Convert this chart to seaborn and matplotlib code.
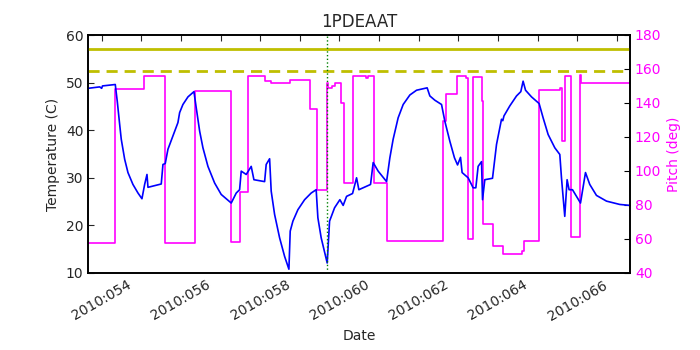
import matplotlib
matplotlib.use("Agg")
import matplotlib.pyplot as plt
import seaborn as sns
import pandas as pd
from matplotlib.ticker import FixedLocator, FuncFormatter

# ---- data (day of year 2010) ----
temp_day = [53.66, 53.95, 54.00, 54.02, 54.343, 54.393, 54.454, 54.494, 54.580, 54.663,
            54.789, 54.916, 55.016, 55.084, 55.143, 55.168, 55.503, 55.546, 55.604, 55.672,
            55.798, 55.924, 55.967, 56.050, 56.177, 56.328, 56.386, 56.472, 56.555, 56.681,
            56.850, 57.016, 57.269, 57.395, 57.480, 57.521, 57.647, 57.773, 57.841, 58.111,
            58.151, 58.237, 58.277, 58.363, 58.489, 58.615, 58.724, 58.757, 58.825, 58.951,
            59.120, 59.286, 59.412, 59.455, 59.538, 59.690, 59.750, 59.876, 60.010, 60.093,
            60.179, 60.330, 60.431, 60.489, 60.784, 60.850, 60.976, 61.188, 61.271, 61.354,
            61.480, 61.607, 61.776, 61.945, 62.212, 62.280, 62.406, 62.575, 62.658, 62.784,
            62.901, 62.979, 63.054, 63.094, 63.246, 63.372, 63.440, 63.498, 63.584, 63.609,
            63.667, 63.861, 63.962, 64.088, 64.12, 64.15, 64.297, 64.467, 64.575, 64.633,
            64.694, 64.845, 65.037, 65.138, 65.264, 65.433, 65.559, 65.601, 65.684, 65.743,
            65.793, 65.879, 66.081, 66.207, 66.315, 66.484, 66.737, 67.073, 67.33]
temp_c = [48.8, 49.1, 48.8, 49.3, 49.6, 46.1, 41.2, 38.1, 33.9, 31.1,
          28.6, 26.8, 25.6, 28.6, 30.7, 28.0, 28.7, 32.8, 33.0, 36.0,
          38.8, 41.6, 43.7, 45.4, 47.0, 48.1, 44.7, 39.8, 36.3, 32.4,
          28.9, 26.5, 24.7, 26.8, 27.5, 31.4, 30.7, 32.4, 29.6, 29.2,
          32.8, 34.0, 27.2, 22.3, 17.4, 13.5, 10.8, 18.8, 20.9, 23.3,
          25.4, 26.8, 27.5, 21.6, 17.4, 12.1, 20.9, 23.7, 25.4, 24.2,
          26.1, 26.7, 30.0, 27.5, 28.6, 33.2, 31.4, 29.2, 34.2, 38.1,
          42.6, 45.4, 47.4, 48.4, 48.9, 47.2, 46.3, 45.4, 41.9, 37.7,
          34.2, 32.7, 34.3, 31.1, 30.0, 27.9, 27.9, 32.4, 33.4, 25.4,
          29.6, 29.9, 37.0, 42.3, 42.0, 43.0, 45.1, 47.2, 48.1, 50.3,
          48.4, 47.0, 45.6, 42.6, 39.1, 36.3, 34.9, 30.0, 21.9, 29.6,
          27.5, 27.5, 24.7, 31.1, 28.6, 26.3, 25.1, 24.4, 24.2]

pitch_day = [53.66, 54.343, 55.067, 55.604, 56.345, 57.253, 57.496, 57.690, 58.111,
             58.262, 58.741, 59.246, 59.438, 59.69, 59.71, 59.80, 59.884, 60.035, 60.111,
             60.330, 60.67, 60.72, 60.868, 61.188, 62.60, 62.683, 62.953, 63.20, 63.246,
             63.357, 63.584, 63.625, 63.861, 64.128, 64.593, 64.651, 65.037, 65.56, 65.62,
             65.68, 65.854, 66.063, 66.09, 67.33]
pitch_deg = [57.7, 148.5, 155.6, 57.7, 146.9, 58.1, 87.5, 155.9, 153.0,
             151.6, 153.6, 136.3, 89.1, 152.0, 149.0, 150.0, 151.7, 140.2, 93.1,
             155.9, 155.0, 155.9, 93.1, 58.6, 129.4, 145.5, 155.9, 154.8, 60.2,
             155.5, 141.2, 68.9, 56.1, 51.4, 52.7, 58.6, 147.5, 149.0, 117.6,
             155.9, 61.0, 156.3, 152.0, 152.0]

limit_solid = 57.0
limit_dashed = 52.5
event_day = 59.69

title = "1PDEAAT"
xlabel = "Date"
ylabel_left = "Temperature (C)"
ylabel_right = "Pitch (deg)"

temp_df = pd.DataFrame({"day": temp_day, "temp": temp_c})
pitch_df = pd.DataFrame({"day": pitch_day, "pitch": pitch_deg})

sns.set_style("white")
plt.rcParams["font.family"] = ["DejaVu Sans"]
plt.rcParams["xtick.direction"] = "in"
plt.rcParams["ytick.direction"] = "in"

fig = plt.figure(figsize=(7, 3.5), dpi=100)
ax = fig.add_axes([0.126, 0.22, 0.774, 0.68])

sns.lineplot(data=temp_df, x="day", y="temp", ax=ax, color="blue", lw=1.2,
             estimator=None, sort=False)
ax.axhline(limit_solid, color=(0.75, 0.75, 0), lw=2)
ax.axhline(limit_dashed, color=(0.75, 0.75, 0), lw=2, ls="--", dashes=(4, 2.5))
ax.axvline(event_day, color="green", lw=1, ls=":")

ax.set_xlim(53.66, 67.33)
ax.set_ylim(10, 60)
ax.set_title(title, fontsize=12)
ax.set_xlabel(xlabel, fontsize=10)
ax.set_ylabel(ylabel_left, fontsize=10)

days = list(range(54, 68))
ax.xaxis.set_major_locator(FixedLocator(days))
ax.xaxis.set_major_formatter(FuncFormatter(
    lambda v, p: "2010:%03d" % int(round(v)) if int(round(v)) % 2 == 0 else ""))
ax.tick_params(axis="x", which="major", length=4, width=0.8, top=True, labelsize=10)
ax.tick_params(axis="y", which="major", length=4, width=0.8, left=True, right=False, labelsize=10)
for lab in ax.get_xticklabels():
    lab.set_rotation(30)
    lab.set_ha("center")
for sp in ax.spines.values():
    sp.set_linewidth(1.2)
    sp.set_color("black")

ax2 = ax.twinx()
sns.lineplot(data=pitch_df, x="day", y="pitch", ax=ax2, color="magenta", lw=1.2,
             estimator=None, sort=False, drawstyle="steps-post")
ax2.set_ylim(40, 180)
ax2.set_xlim(53.66, 67.33)
ax2.set_ylabel(ylabel_right, color="magenta", fontsize=10)
ax2.tick_params(axis="y", colors="magenta", length=4, width=0.8, labelsize=10, right=True, left=False)
ax2.tick_params(axis="y", color="black")
for sp in ax2.spines.values():
    sp.set_linewidth(1.2)
    sp.set_color("black")
ax.set_zorder(ax2.get_zorder() + 1)
ax.patch.set_visible(False)

fig.savefig("out.png", dpi=100, facecolor="white")
